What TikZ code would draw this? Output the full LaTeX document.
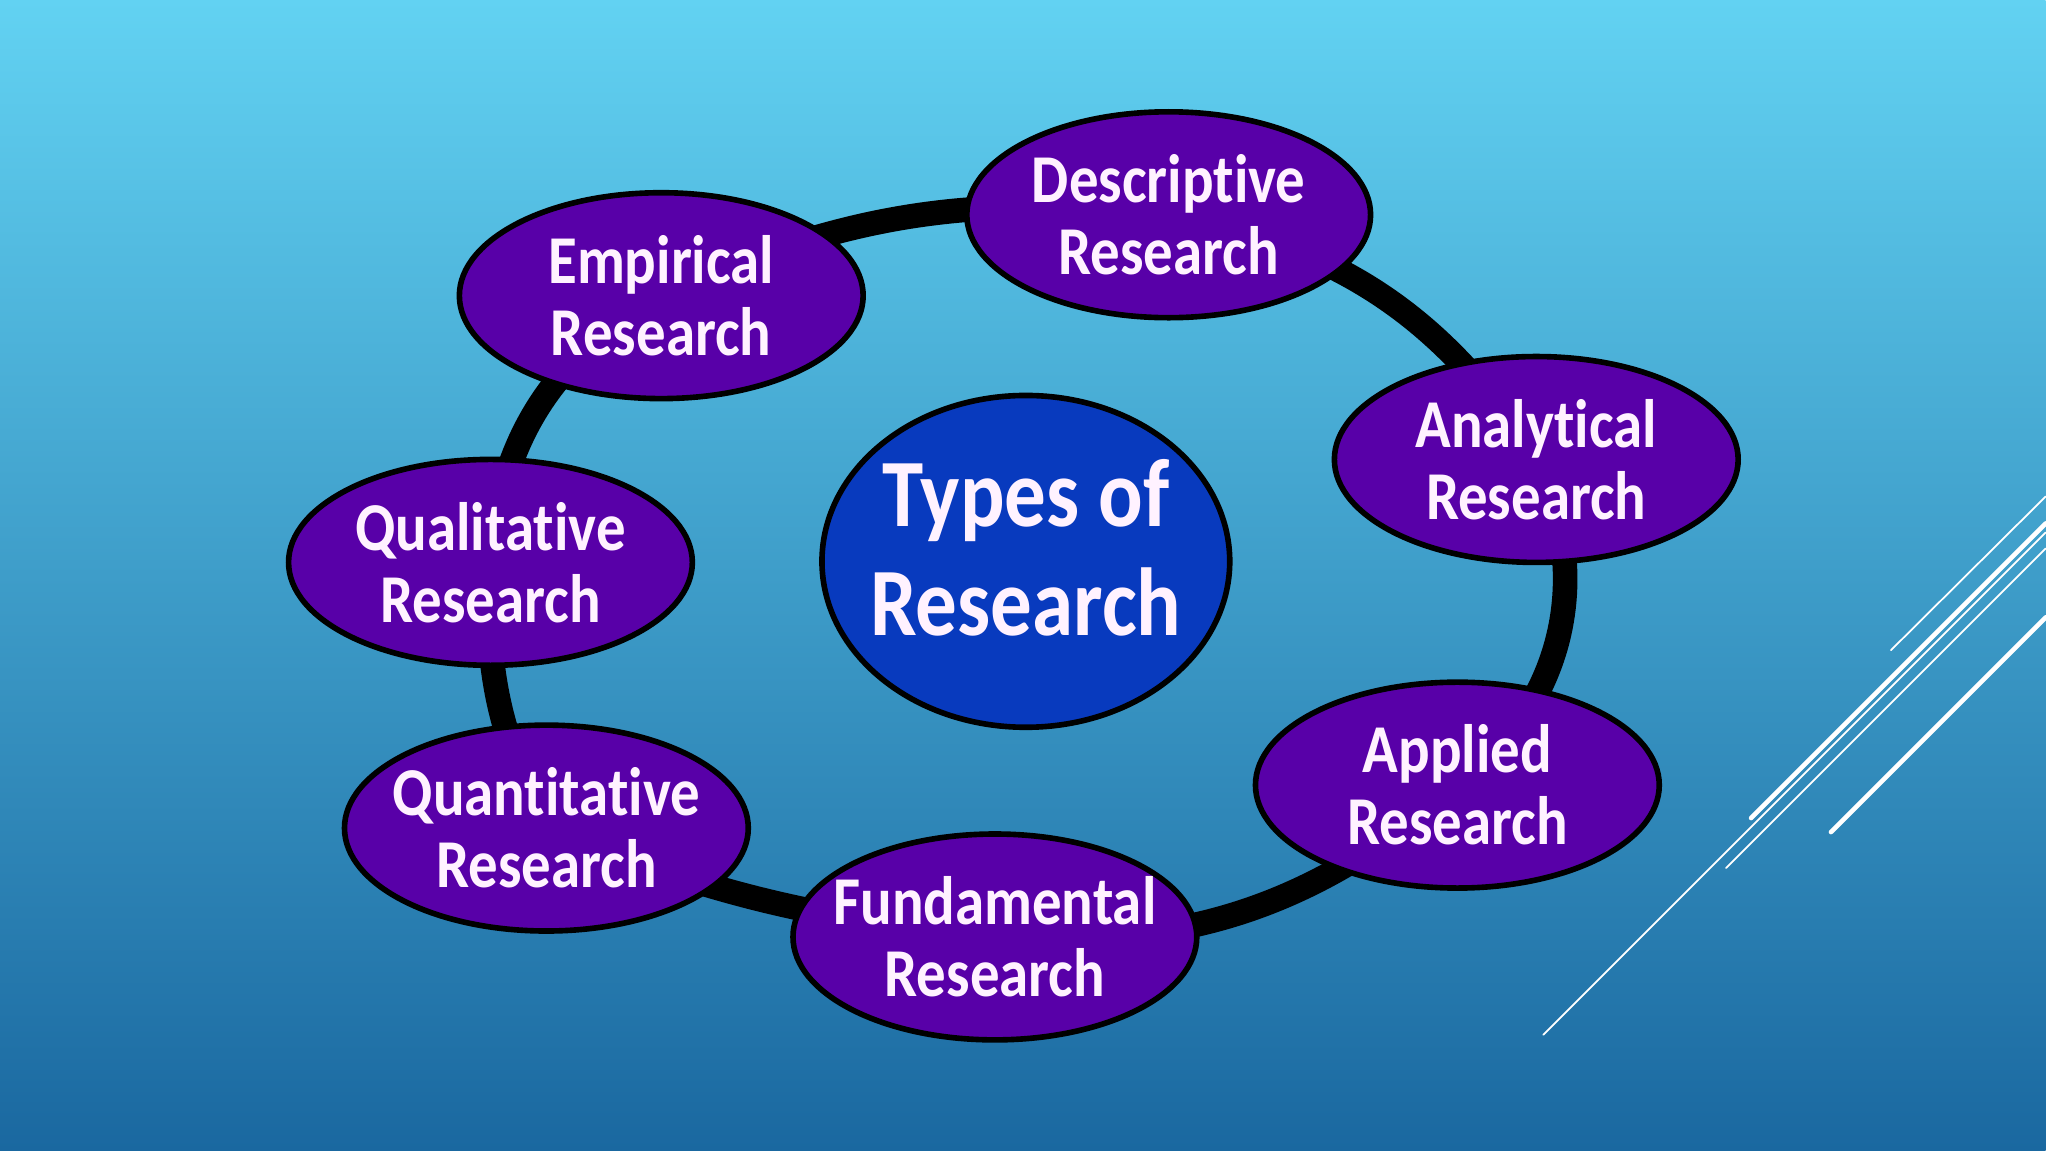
\documentclass[tikz,border=0pt]{standalone}
\usepackage{fontspec}
\setmainfont{Carlito}
\newfontfamily\slidefont[FakeStretch=0.86, Ligatures=NoCommon]{Carlito}
\usepackage{xcolor}
\usetikzlibrary{shapes.geometric}

\pgfdeclarelayer{sky}
\pgfdeclarelayer{ringlayer}
\pgfsetlayers{sky,ringlayer,main}

\definecolor{skytop}{RGB}{98,210,242}
\definecolor{skymid}{RGB}{62,160,206}
\definecolor{skybot}{RGB}{26,104,160}
\definecolor{topicfill}{RGB}{88,0,168}
\definecolor{hubfill}{RGB}{8,58,190}
\definecolor{labeltext}{RGB}{255,242,255}

\begin{document}
\begin{tikzpicture}[
        x=0.01cm, y=-0.01cm,
        topic/.style={
            ellipse,
            draw=black, line width=1.6pt,
            fill=topicfill,
            minimum width=4.04cm,
            minimum height=2.06cm,
            inner xsep=-8pt, inner ysep=0pt,
            align=center,
            text=labeltext,
            font=\slidefont\fontsize{19.5}{20.5}\selectfont\bfseries
        },
        hub/.style={
            topic,
            fill=hubfill,
            minimum width=4.08cm,
            minimum height=3.32cm,
            inner xsep=-12pt,
            text depth=0.28cm,
            font=\slidefont\fontsize{27.5}{31}\selectfont\bfseries
        },
        ring/.style={line width=7pt, black},
        streak/.style={white, line cap=round}
    ]

    % backdrop
    \begin{pgfonlayer}{sky}
        \shade[top color=skytop, middle color=skymid, bottom color=skybot]
            (0,0) rectangle (2048,1152);
        \draw[streak, line width=0.5pt] (1893,651) -- (2048,497);
        \draw[streak, line width=1.3pt] (1753,819) -- (2048,524);
        \draw[streak, line width=0.5pt] (1545,1036) -- (2048,533);
        \draw[streak, line width=0.5pt] (1728,869) -- (2048,549);
        \draw[streak, line width=1.3pt] (1833,833) -- (2048,618);
    \end{pgfonlayer}

    \node[hub] (hub) at (1027,562) {Types of\\Research};

    \node[topic] (empirical) at (662,296) {Empirical\\Research};
    \node[topic] (descriptive) at (1170,215) {Descriptive\\Research};
    \node[topic] (analytical) at (1538,460) {Analytical\\Research};
    \node[topic] (applied) at (1459,786) {Applied\\Research};
    \node[topic] (fundamental) at (996,938) {Fundamental\\Research};
    \node[topic] (quantitative) at (547,829) {Quantitative\\Research};
    \node[topic] (qualitative) at (491,563) {Qualitative\\Research};

    \begin{pgfonlayer}{ringlayer}
        \draw[ring] (empirical.center) to[bend left=15] (descriptive.center);
        \draw[ring] (descriptive.center) to[bend left=23] (analytical.center);
        \draw[ring] (analytical.center) to[bend left=40] (applied.center);
        \draw[ring] (applied.center) to[bend left=22] (fundamental.center);
        \draw[ring] (fundamental.center) to[bend left=8] (quantitative.center);
        \draw[ring] (quantitative.center) to[bend left=15] (qualitative.center);
        \draw[ring] (qualitative.center) to[bend left=28] (empirical.center);
    \end{pgfonlayer}

\end{tikzpicture}
\end{document}
